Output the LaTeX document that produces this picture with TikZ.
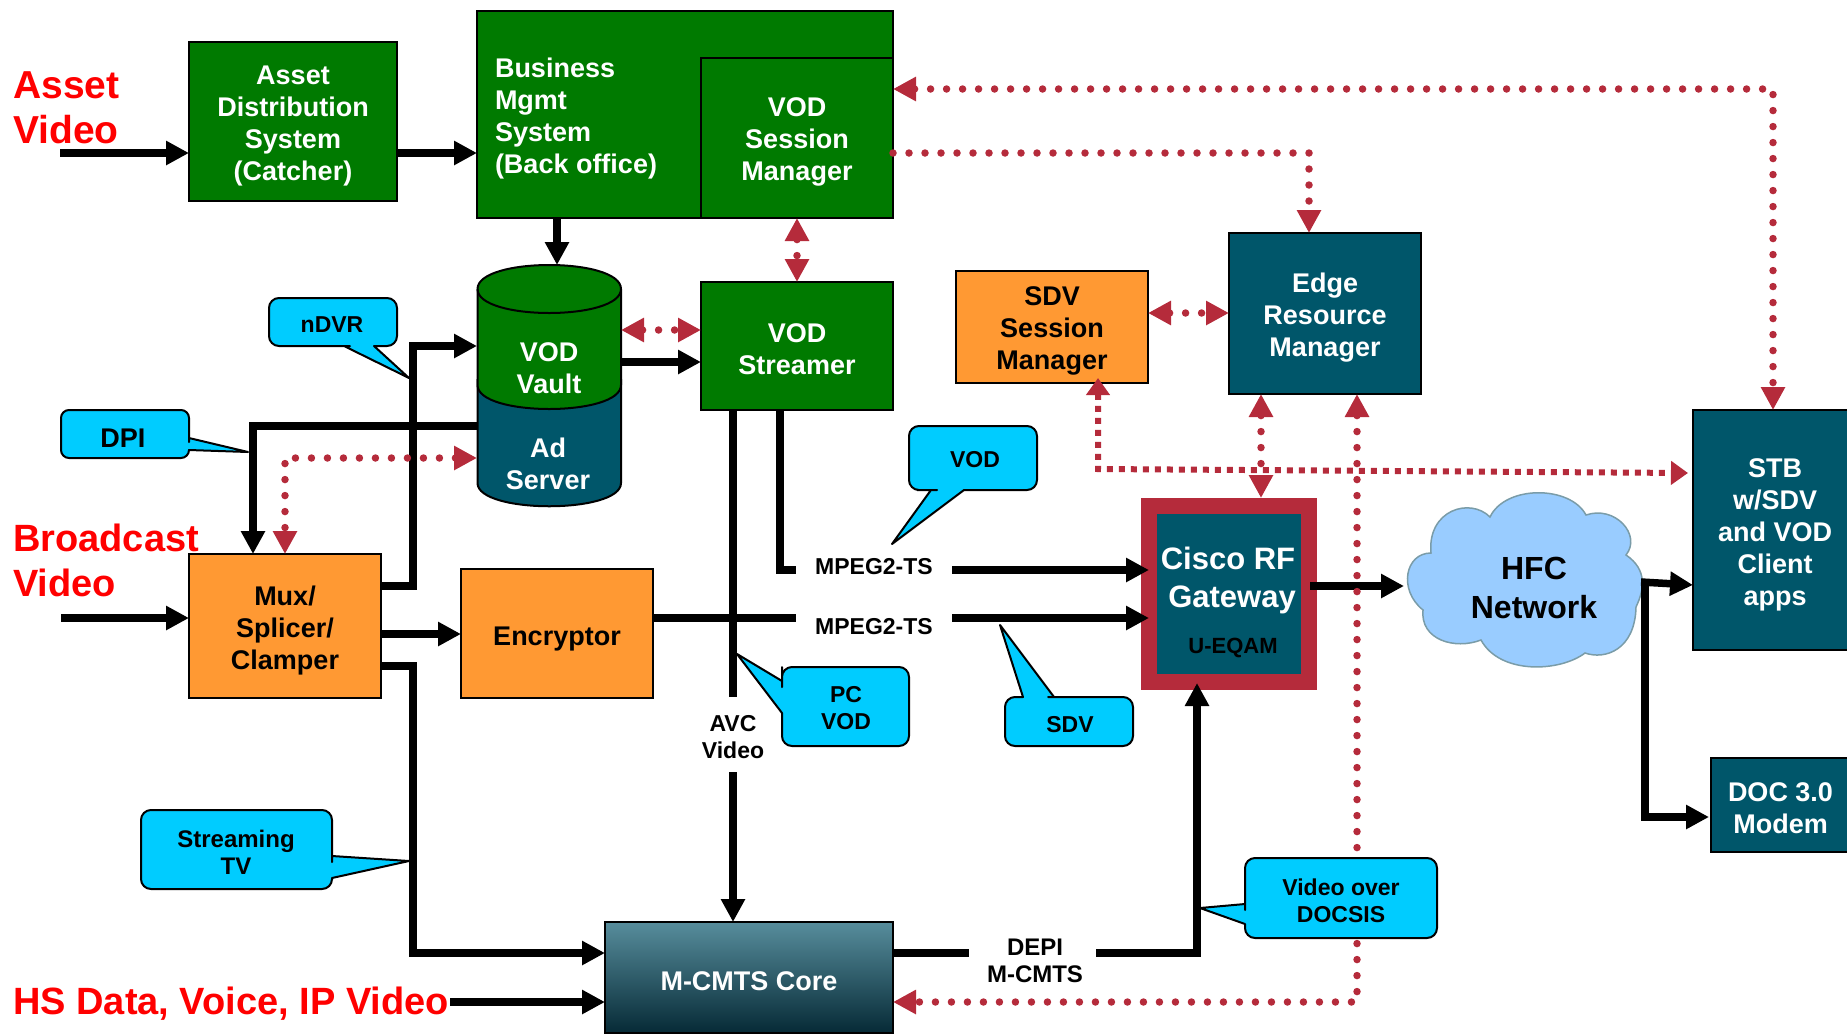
\documentclass[tikz,border=0pt]{standalone}
\usepackage{fontspec}
\setmainfont{Liberation Sans}
\usetikzlibrary{arrows.meta}
\definecolor{bxgreen}{HTML}{007A00}
\definecolor{bxteal}{HTML}{00566A}
\definecolor{bxorange}{HTML}{FF9933}
\definecolor{bxcyan}{HTML}{00CCFF}
\definecolor{bxred}{HTML}{B52B3B}
\definecolor{bxcloud}{HTML}{99CCFF}
\definecolor{bxcloudline}{HTML}{7A9CA8}
\definecolor{bxtop}{HTML}{578D9C}
\definecolor{bxbot}{HTML}{062A36}
\newcommand{\fnt}[2]{\fontsize{#1}{#2}\selectfont\bfseries}
\newcommand{\bx}[8][4]{%
  \pgfmathsetmacro{\cxx}{(#4+#6)/2}\pgfmathsetmacro{\cyy}{(#5+#7)/2}%
  \pgfmathsetmacro{\wdd}{#6-#4}\pgfmathsetmacro{\htt}{#7-#5}%
  \pgfmathsetmacro{\tyy}{\cyy+#1}%
  \node[#2,minimum width=\wdd pt,minimum height=\htt pt] (#3) at (\cxx,\cyy) {};
  \node[#2,draw=none,fill=none,shade=false] (#3txt) at (\cxx,\tyy) {#8};}
\tikzset{
  x=1pt,y=-1pt,
  basebox/.style={rectangle,draw=black,line width=2pt,inner sep=0pt,align=center,font=\fnt{27}{32}},
  greenbox/.style={basebox,fill=bxgreen,text=white},
  tealbox/.style={basebox,fill=bxteal,text=white},
  orangebox/.style={basebox,fill=bxorange,text=black},
  redlabel/.style={inner sep=0pt,align=left,anchor=west,text=red,font=\fnt{38}{45}},
  linelabel/.style={inner sep=0pt,align=center,text=black,font=\fnt{23}{27}},
  calloutshape/.style={draw=black,line width=2pt,fill=bxcyan,line join=round},
  callouttext/.style={inner sep=0pt,align=center,text=black,font=\fnt{23}{27}},
  blackline/.style={draw=black,line width=7.5pt},
  blackarrow/.style={blackline,-{Triangle[length=23pt,width=23pt]}},
  reddots/.style={draw=bxred,line width=7.5pt,line cap=round,dash pattern=on 0pt off 16pt},
  redarrow/.style={reddots,-{Triangle[length=23pt,width=23pt]}},
  reddouble/.style={reddots,{Triangle[length=23pt,width=23pt]}-{Triangle[length=23pt,width=23pt]}},
  redsquares/.style={draw=bxred,line width=6pt,dash pattern=on 6pt off 6pt,
     {Triangle[length=17pt,width=23pt]}-{Triangle[length=17pt,width=23pt]}},
}
\begin{document}
\begin{tikzpicture}
\useasboundingbox (0,0) rectangle (1847,1034);
\clip (0,0) rectangle (1847,1034);

% boxes
\bx[5]{greenbox}{asset}{189}{42}{397}{201}{Asset\\Distribution\\System\\(Catcher)}
\bx{greenbox}{bms}{477}{11}{893}{218}{}
\bx{greenbox}{vsm}{701}{58}{893}{218}{VOD\\Session\\Manager}
\bx[3]{greenbox}{streamer}{701}{282}{893}{410}{VOD\\Streamer}
\bx{orangebox}{sdvm}{956}{271}{1148}{383}{SDV\\Session\\Manager}
\bx{tealbox}{edge}{1229}{233}{1421}{394}{Edge\\Resource\\Manager}
\bx[5]{tealbox}{stb}{1693}{410}{1857}{650}{STB\\w/SDV\\and VOD\\Client\\apps}
\bx[3]{tealbox}{doc}{1711}{758}{1850}{852}{DOC 3.0\\Modem}
\bx[5]{orangebox}{mux}{189}{554}{381}{698}{Mux/\\Splicer/\\Clamper}
\bx[6]{orangebox}{encryptor}{461}{569}{653}{698}{Encryptor}
\node[greenbox,draw=none,fill=none,anchor=west,align=left] (bmstext) at (494,119) {Business\\Mgmt\\System\\(Back office)};

% cylinder
\path[draw=black,line width=2pt,fill=bxteal]
  (477.5,380) -- (477.5,483) .. controls (477.5,514) and (621,514) .. (621,483) -- (621,380) -- cycle;
\path[draw=black,line width=2pt,fill=bxgreen]
  (477.5,289) -- (477.5,385) .. controls (477.5,417) and (621,417) .. (621,385) -- (621,289)
  .. controls (621,257) and (477.5,257) .. (477.5,289) -- cycle;
\path[draw=black,line width=2pt]
  (477.5,289) .. controls (477.5,321) and (621,321) .. (621,289);
\node[greenbox,draw=none,fill=none] (vault) at (549,368) {VOD\\Vault};
\node[tealbox,draw=none,fill=none] (adserver) at (548,464) {Ad\\Server};

% gateway
\bx[0]{basebox,draw=none,fill=bxred}{gwouter}{1141}{498}{1317}{690}{}
\bx[0]{basebox,draw=none,fill=bxteal}{gwinner}{1157}{514}{1301}{674}{}
\node[inner sep=0pt,align=center,text=white,font=\fnt{31}{38}] (gwtext) at (1228,580) {Cisco RF\\\hspace*{8pt}Gateway};
\node[inner sep=0pt,text=black,font=\fnt{22}{26}] (ueqam) at (1233,648) {U-EQAM};

% M-CMTS
\node[basebox,top color=bxtop,bottom color=bxbot,minimum width=288pt,minimum height=111pt] (cmts) at (749,977.5) {};
\node[inner sep=0pt,text=white,font=\fnt{27}{32}] (cmtstxt) at (749,981) {M-CMTS Core};

% cloud
\path[draw=bxcloudline,line width=1.5pt,fill=bxcloud]
  (1431,553) .. controls (1427,510) and (1470,497) .. (1490,517)
  .. controls (1505,485) and (1570,485) .. (1586,515)
  .. controls (1615,505) and (1642,535) .. (1626,555)
  .. controls (1648,570) and (1644,590) .. (1636,607)
  .. controls (1635,650) and (1605,660) .. (1585,653)
  .. controls (1560,672) and (1500,675) .. (1481,640)
  .. controls (1455,650) and (1420,640) .. (1423,610)
  .. controls (1398,590) and (1405,553) .. (1431,553) -- cycle;
\node[inner sep=0pt,align=center,text=black,font=\fnt{32}{39}] (hfc) at (1534,588) {HFC\\Network};

% free texts
\node[redlabel,font=\fnt{39}{45}] (assetlbl) at (13,108) {Asset\\Video};
\node[redlabel] (broadlbl) at (13,560) {Broadcast\\Video};
\node[redlabel] (hslbl) at (13,1004) {HS Data, Voice, IP Video};

\node[linelabel] (mpega) at (874,567) {MPEG2-TS};
\node[linelabel] (mpegb) at (874,627) {MPEG2-TS};
\node[linelabel] (avc) at (733,737) {AVC\\Video};
\node[linelabel,font=\fnt{24}{27}] (depi) at (1035,961) {DEPI\\M-CMTS};

% connector ends
\coordinate (assetIn) at (60,153);
\coordinate (assetL) at (189,153);
\coordinate (assetR) at (397,153);
\coordinate (bmsL) at (477,153);
\coordinate (bmsB) at (557,218);
\coordinate (vaultT) at (557,265);
\coordinate (vaultR) at (621,362);
\coordinate (strL) at (701,362);
\coordinate (vaultRr) at (621,330);
\coordinate (strLr) at (701,330);
\coordinate (vsmB) at (797,218);
\coordinate (strT) at (797,282);
\coordinate (muxR) at (381,586);
\coordinate (busA) at (413,586);
\coordinate (busB) at (413,346);
\coordinate (vaultL) at (477,346);
\coordinate (adL) at (477,426);
\coordinate (dpiC) at (253,426);
\coordinate (muxT) at (253,554);
\coordinate (adLr) at (477,458);
\coordinate (dpiR) at (285,458);
\coordinate (muxTr) at (285,554);
\coordinate (brIn) at (61,618);
\coordinate (muxL) at (189,618);
\coordinate (muxE) at (381,634);
\coordinate (encL) at (461,634);
\coordinate (muxRb) at (381,666);
\coordinate (busC) at (413,666);
\coordinate (busD) at (413,953);
\coordinate (cmtsL) at (605,953);
\coordinate (hsR) at (450,1002);
\coordinate (cmtsLb) at (605,1002);
\coordinate (avcA) at (733,410);
\coordinate (avcB) at (733,697);
\coordinate (avcC) at (733,772);
\coordinate (cmtsT) at (733,922);
\coordinate (strB) at (780,410);
\coordinate (strC) at (780,570);
\coordinate (mpaL) at (796,570);
\coordinate (mpaR) at (952,570);
\coordinate (gwLa) at (1149,570);
\coordinate (encR) at (653,618);
\coordinate (mpbL) at (796,618);
\coordinate (mpbR) at (952,618);
\coordinate (gwLb) at (1149,618);
\coordinate (cmtsR) at (893,953);
\coordinate (depiL) at (969,953);
\coordinate (depiR) at (1096,953);
\coordinate (depiC) at (1197,953);
\coordinate (gwB) at (1197,683);
\coordinate (gwR) at (1310,586);
\coordinate (cloudL) at (1404,586);
\coordinate (cloudR) at (1641,582);
\coordinate (cloudJ) at (1645,582);
\coordinate (stbL) at (1693,585);
\coordinate (cloudK) at (1645,817);
\coordinate (docL) at (1709,817);

\draw[blackarrow] (assetIn) -- (assetL);
\draw[blackarrow] (assetR) -- (bmsL);
\draw[blackarrow] (bmsB) -- (vaultT);
\draw[blackarrow] (vaultR) -- (strL);
\draw[blackarrow] (muxR) -- (busA) -- (busB) -- (vaultL);
\draw[blackarrow] (adL) -- (dpiC) -- (muxT);
\draw[blackarrow] (brIn) -- (muxL);
\draw[blackarrow] (muxE) -- (encL);
\draw[blackarrow] (muxRb) -- (busC) -- (busD) -- (cmtsL);
\draw[blackarrow] (hsR) -- (cmtsLb);
\draw[blackline] (avcA) -- (avcB);
\draw[blackarrow] (avcC) -- (cmtsT);
\draw[blackline] (strB) -- (strC) -- (mpaL);
\draw[blackarrow] (mpaR) -- (gwLa);
\draw[blackline] (encR) -- (mpbL);
\draw[blackarrow] (mpbR) -- (gwLb);
\draw[blackline] (cmtsR) -- (depiL);
\draw[blackarrow] (depiR) -- (depiC) -- (gwB);
\draw[blackarrow] (gwR) -- (cloudL);
\draw[blackarrow] (cloudR) -- (stbL);
\draw[blackarrow] (cloudJ) -- (cloudK) -- (docL);

% red connectors
\coordinate (vsmRa) at (893,89);
\coordinate (stbBend) at (1773,89);
\coordinate (stbT) at (1773,410);
\coordinate (vsmRb) at (893,153);
\coordinate (edgeBend) at (1309,153);
\coordinate (edgeT) at (1309,233);
\coordinate (sdvR) at (1148,313);
\coordinate (edgeL) at (1229,313);
\coordinate (edgeBa) at (1261,394);
\coordinate (gwT) at (1261,498);
\coordinate (edgeBb) at (1357,394);
\coordinate (redBend) at (1357,1002);
\coordinate (cmtsRb) at (893,1002);
\coordinate (sdvB) at (1098,378);
\coordinate (sqBend) at (1098,469);
\coordinate (stbLb) at (1688,473);

\draw[reddouble] (vsmRa) -- (stbBend) -- (stbT);
\draw[redarrow] (vsmRb) -- (edgeBend) -- (edgeT);
\draw[reddouble] (vsmB) -- (strT);
\draw[reddouble] (sdvR) -- (edgeL);
\draw[reddouble] (vaultRr) -- (strLr);
\draw[reddouble] (adLr) -- (dpiR) -- (muxTr);
\draw[redsquares] (sdvB) -- (sqBend) -- (stbLb);
\draw[reddouble] (edgeBa) -- (gwT);
\draw[reddouble] (edgeBb) -- (redBend) -- (cmtsRb);

% callouts
\path[calloutshape] (344,346) -- (409,378) -- (374,346) -- (377,346) [rounded corners=10pt] -- (397,346) -- (397,298) -- (269,298) -- (269,346) -- (340,346) [sharp corners] -- cycle;
\node[callouttext] (ndvr) at (332,325) {nDVR};
\path[calloutshape] (189,438) -- (248,452) -- (189,450) -- (189,451) [rounded corners=8pt] -- (189,458) -- (61,458) -- (61,410) -- (189,410) -- (189,434) [sharp corners] -- cycle;
\node[callouttext,font=\fnt{27}{32}] (dpi) at (123,438) {DPI};
\path[calloutshape] (931,490) -- (892,544) -- (964,490) -- (968,490) [rounded corners=10pt] -- (1037,490) -- (1037,426) -- (909,426) -- (909,490) -- (927,490) [sharp corners] -- cycle;
\node[callouttext] (vodc) at (975,460) {VOD};
\path[calloutshape] (1054,697) -- (1000,625) -- (1023,697) -- (1020,697) [rounded corners=10pt] -- (1005,697) -- (1005,746) -- (1133,746) -- (1133,697) -- (1058,697) [sharp corners] -- cycle;
\node[callouttext] (sdvc) at (1070,725) {SDV};
\path[calloutshape] (782,681) -- (737,654) -- (782,713) -- (782,717) [rounded corners=10pt] -- (782,746) -- (909,746) -- (909,667) -- (782,667) -- (782,677) [sharp corners] -- cycle;
\node[callouttext] (pcvod) at (846,708) {PC\\VOD};
\path[calloutshape] (332,856) -- (409,861) -- (332,878) -- (332,880) [rounded corners=10pt] -- (332,889) -- (141,889) -- (141,810) -- (332,810) -- (332,852) [sharp corners] -- cycle;
\node[callouttext,font=\fnt{24}{27}] (sttv) at (236,852) {Streaming\\TV};
\path[calloutshape] (1245,904) -- (1200,908) -- (1245,924) -- (1245,927) [rounded corners=10pt] -- (1245,938) -- (1437,938) -- (1437,858) -- (1245,858) -- (1245,900) [sharp corners] -- cycle;
\node[callouttext] (vdoc) at (1341,901) {Video over\\DOCSIS};
\end{tikzpicture}
\end{document}
